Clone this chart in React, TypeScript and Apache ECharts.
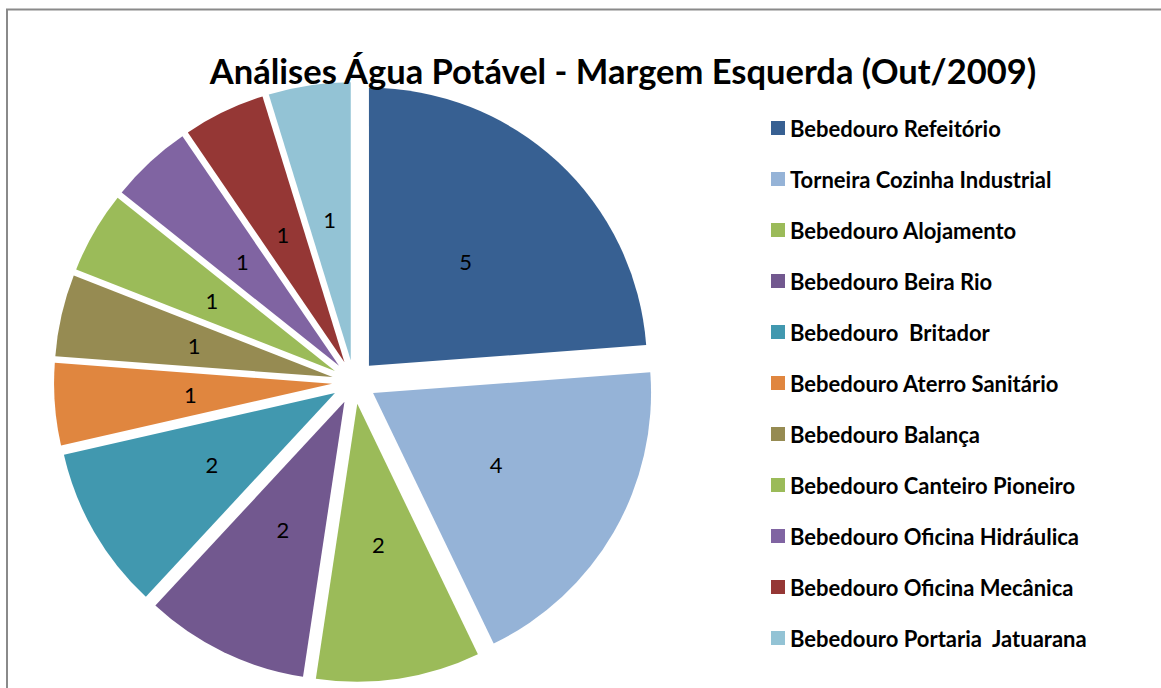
import React, { useEffect, useRef } from "react";
import * as echarts from "echarts";

const categories = [
  "Bebedouro Refeitório",
  "Torneira Cozinha Industrial",
  "Bebedouro Alojamento",
  "Bebedouro Beira Rio",
  "Bebedouro  Britador",
  "Bebedouro Aterro Sanitário",
  "Bebedouro Balança",
  "Bebedouro Canteiro Pioneiro",
  "Bebedouro Oficina Hidráulica",
  "Bebedouro Oficina Mecânica",
  "Bebedouro Portaria  Jatuarana",
];
const values = [5, 4, 2, 2, 2, 1, 1, 1, 1, 1, 1];
const colors = [
  "#376092",
  "#95B3D7",
  "#9BBB59",
  "#72588F",
  "#4198AF",
  "#E0863F",
  "#968B52",
  "#9BBB59",
  "#8064A2",
  "#953735",
  "#93C3D5",
];
const titleText = "Análises Água Potável - Margem Esquerda (Out/2009)";

export default function App() {
  const ref = useRef<HTMLDivElement>(null);
  useEffect(() => {
    if (!ref.current) return;
    const chart = echarts.init(ref.current, null, { renderer: "svg" });
    const font = "Lato, 'Open Sans', sans-serif";
    chart.setOption({
      animation: false,
      backgroundColor: "#ffffff",
      color: colors,
      graphic: [
        {
          type: "rect",
          shape: { x: 7, y: 9.5, width: 1200, height: 700 },
          style: { fill: "none", stroke: "#8a8a8a", lineWidth: 2 },
          silent: true,
        },
        {
          type: "text",
          x: 623,
          y: 70,
          style: {
            text: titleText,
            fontFamily: font,
            fontWeight: "bold",
            fontSize: 34.5,
            fill: "#000",
            align: "center",
            verticalAlign: "middle",
          },
          z: 10,
        },
      ],
      legend: {
        orient: "vertical",
        left: 766,
        top: 112,
        itemWidth: 14,
        itemHeight: 14,
        itemGap: 29,
        icon: "rect",
        selectedMode: false,
        textStyle: {
          fontFamily: font,
          fontWeight: "bold",
          fontSize: 22,
          lineHeight: 20,
          color: "#000",
        },
        data: categories,
      },
      series: [
        {
          type: "pie",
          center: [354, 382],
          radius: [0, 278],
          startAngle: 90,
          clockwise: true,
          selectedMode: "multiple",
          selectedOffset: 22,
          avoidLabelOverlap: false,
          emphasis: { disabled: true },
          itemStyle: { borderWidth: 0 },
          label: {
            show: true,
            position: "inside",
            formatter: "{c}",
            color: "#000",
            fontFamily: font,
            fontSize: 22,
          },
          labelLine: { show: false },
          data: categories.map((name, i) => ({
            name,
            value: values[i],
            selected: true,
            itemStyle: { color: colors[i] },
          })),
        },
      ],
    });
    return () => chart.dispose();
  }, []);
  return (
    <div
      ref={ref}
      style={{ position: "absolute", left: 0, top: 0, width: 1161, height: 688 }}
    />
  );
}
